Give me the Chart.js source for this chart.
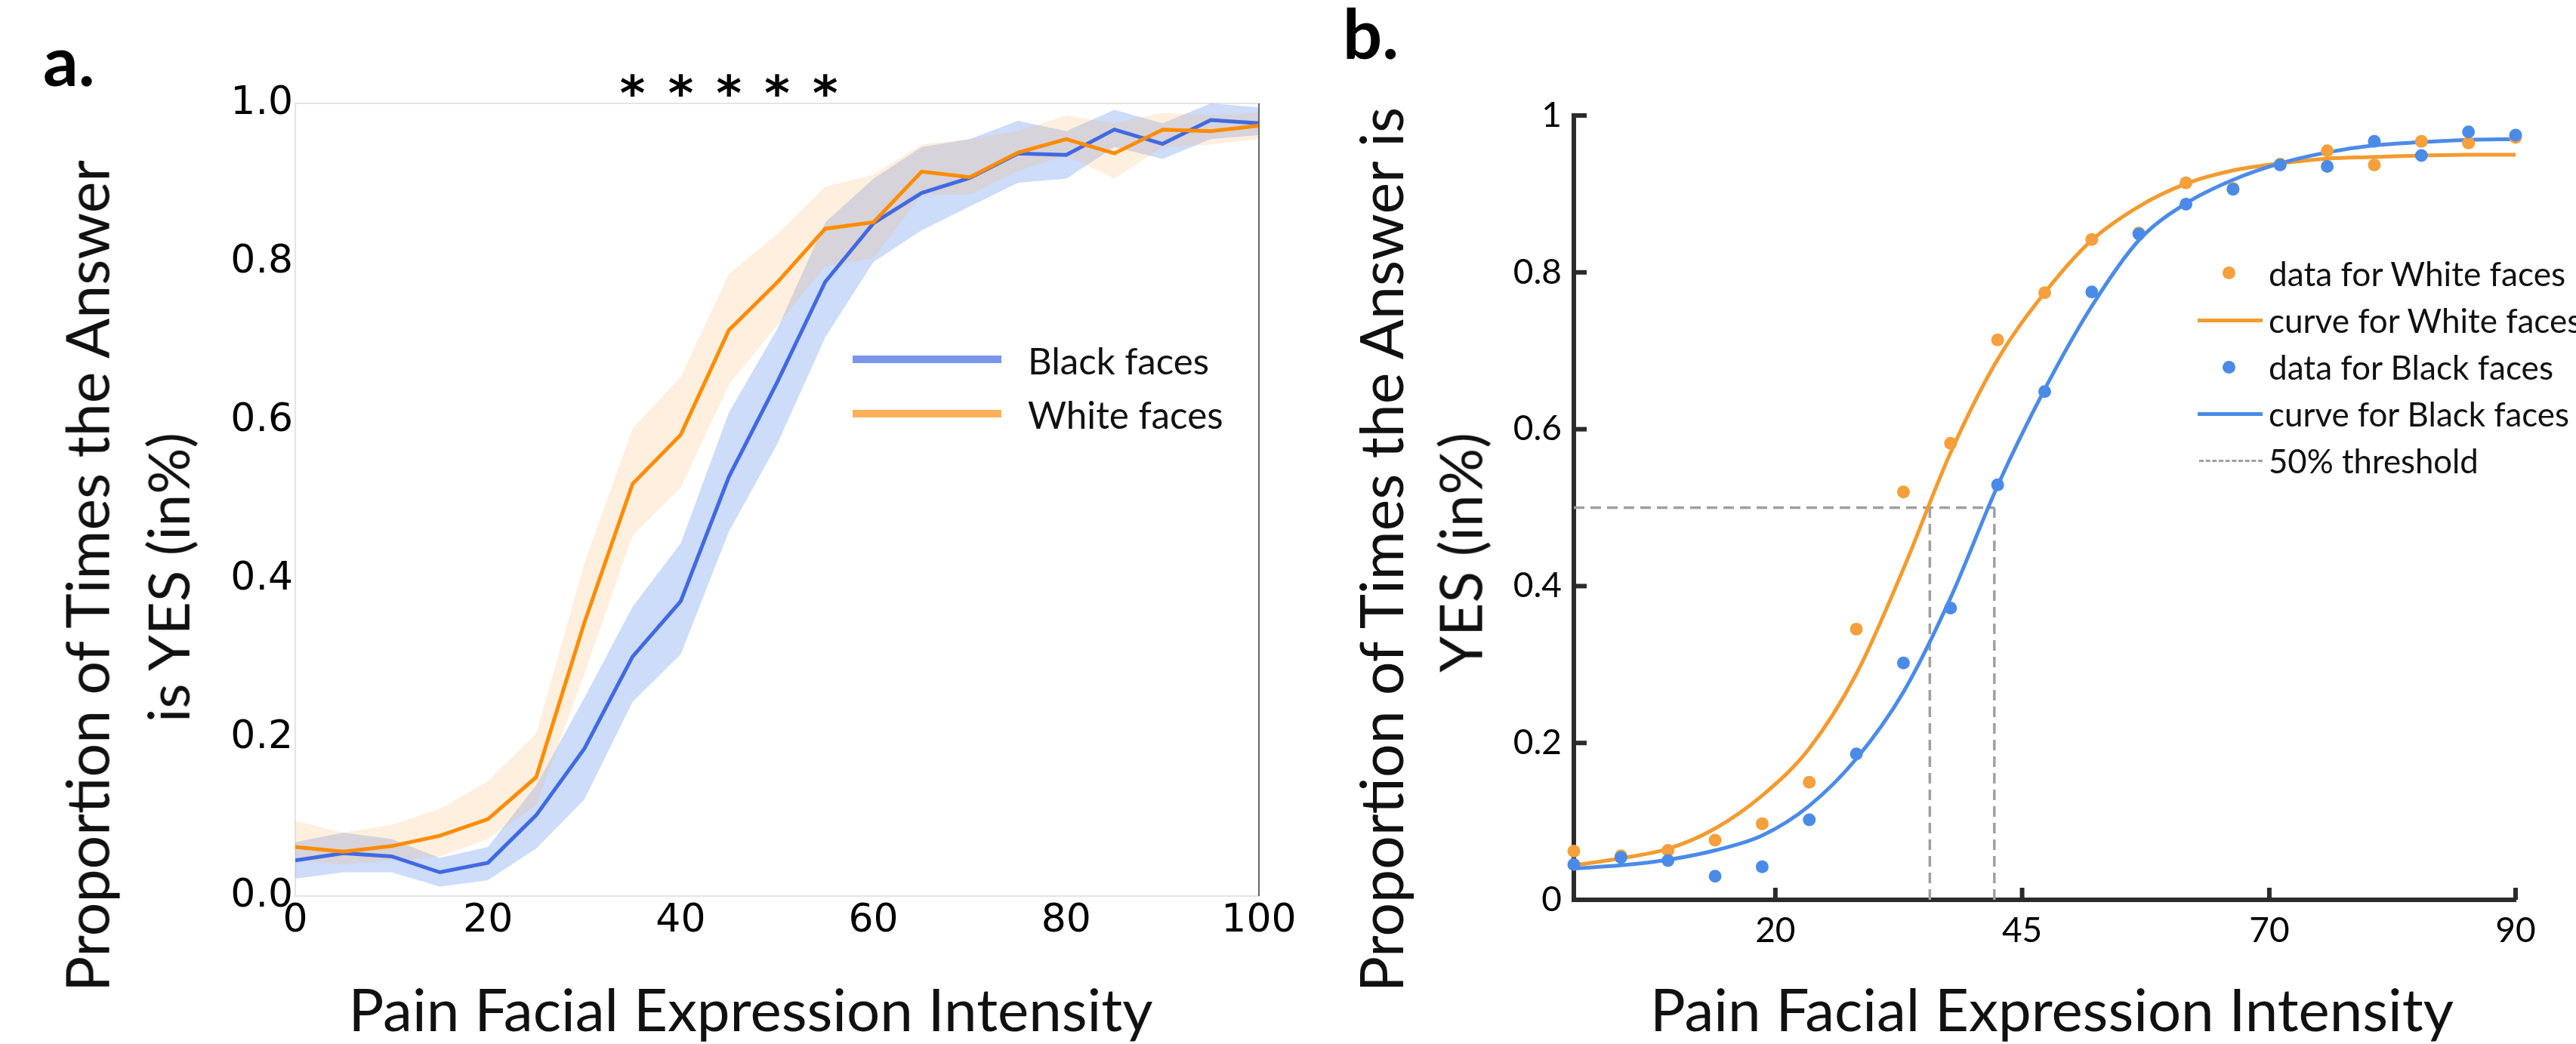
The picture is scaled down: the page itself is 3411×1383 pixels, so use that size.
<!DOCTYPE html>
<html>
<head>
<meta charset="utf-8">
<script src="https://cdn.jsdelivr.net/npm/chart.js@4.4.1/dist/chart.umd.min.js"></script>
<style>
  html, body { margin: 0; padding: 0; background: #fff; }
  #page { position: relative; width: 3411px; height: 1383px; overflow: hidden; background: #fff;
          font-family: Lato, "Open Sans", sans-serif; color: #111; }
  canvas { position: absolute; top: 0; }
  #chartA { left: 0; }
  #chartB { left: 1720px; }
  .t   { position: absolute; white-space: nowrap; transform: translate(-50%, -50%); line-height: 1; }
  .rot { transform: translate(-50%, -50%) rotate(-90deg); }
  .ttl { font-size: 80px; }
  .lab { position: absolute; font-weight: 700; font-size: 92px; line-height: 1; color: #000; }
  .lg  { position: absolute; white-space: nowrap; transform: translateY(-50%); line-height: 1; font-size: 44px; }
  .sw  { position: absolute; }
</style>
</head>
<body>
<div id="page">
  <canvas id="chartA" width="1720" height="1383"></canvas>
  <canvas id="chartB" width="1691" height="1383"></canvas>

  <!-- panel a -->
  <div class="lab" style="left:57px; top:33px">a.</div>
  <div class="t ttl" data-w="1065" style="left:994px; top:1336px">Pain Facial Expression Intensity</div>
  <div class="t ttl rot" data-w="1102" style="left:115px; top:763px">Proportion of Times the Answer</div>
  <div class="t ttl rot" data-w="384" style="left:222px; top:765px">is YES (in%)</div>

  <div class="sw" style="left:1129px; top:471px; width:197px; height:10px; background:#7996ea"></div>
  <div class="lg" data-w="240" style="left:1361px; top:478px">Black faces</div>
  <div class="sw" style="left:1129px; top:543px; width:197px; height:10px; background:#ffb059"></div>
  <div class="lg" data-w="259" style="left:1361px; top:550px">White faces</div>

  <!-- panel b -->
  <div class="lab" style="left:1778px; top:-3px">b.</div>
  <div class="t ttl" data-w="1064" style="left:2717px; top:1336px">Pain Facial Expression Intensity</div>
  <div class="t ttl rot" data-w="1173" style="left:1828px; top:728px">Proportion of Times the Answer is</div>
  <div class="t ttl rot" data-w="318" style="left:1933px; top:732px">YES (in%)</div>

  <div class="sw" style="left:2943px; top:353px; width:17px; height:17px; border-radius:50%; background:#f5a03c"></div>
  <div class="lg" data-w="393" style="left:3004px; top:362px">data for White faces</div>
  <div class="sw" style="left:2910px; top:422px; width:86px; height:5px; background:#f39b30"></div>
  <div class="lg" data-w="414" style="left:3004px; top:424px">curve for White faces</div>
  <div class="sw" style="left:2943px; top:478px; width:17px; height:17px; border-radius:50%; background:#4b8be8"></div>
  <div class="lg" data-w="377" style="left:3004px; top:486px">data for Black faces</div>
  <div class="sw" style="left:2910px; top:546px; width:86px; height:5px; background:#4b8be8"></div>
  <div class="lg" data-w="398" style="left:3004px; top:549px">curve for Black faces</div>
  <div class="sw" style="left:2912px; top:609px; width:84px; height:0; border-top:3px dashed #a0a0a0"></div>
  <div class="lg" data-w="278" style="left:3004px; top:611px">50% threshold</div>
</div>

<script>
// intensity levels (x) shared by both panels
const intensity = [0, 5, 10, 15, 20, 25, 30, 35, 40, 45, 50, 55, 60, 65, 70, 75, 80, 85, 90, 95, 100];

// mean proportion of YES answers
const whiteMean = [0.062, 0.056, 0.063, 0.076, 0.097, 0.150, 0.345, 0.520, 0.582, 0.714, 0.774, 0.842, 0.850, 0.914, 0.907, 0.938, 0.955, 0.937, 0.967, 0.965, 0.972];
const blackMean = [0.045, 0.054, 0.050, 0.030, 0.042, 0.102, 0.186, 0.302, 0.372, 0.529, 0.648, 0.775, 0.849, 0.887, 0.906, 0.937, 0.935, 0.967, 0.949, 0.979, 0.975];

// shaded error bands (panel a)
const whiteLow  = [0.045, 0.040, 0.045, 0.050, 0.072, 0.115, 0.280, 0.455, 0.515, 0.645, 0.720, 0.795, 0.805, 0.885, 0.885, 0.915, 0.935, 0.905, 0.945, 0.948, 0.955];
const whiteHigh = [0.095, 0.080, 0.090, 0.110, 0.145, 0.205, 0.420, 0.590, 0.655, 0.785, 0.835, 0.895, 0.910, 0.948, 0.955, 0.965, 0.985, 0.975, 0.988, 0.985, 0.988];
const blackLow  = [0.022, 0.030, 0.030, 0.012, 0.020, 0.060, 0.122, 0.245, 0.305, 0.460, 0.570, 0.705, 0.800, 0.840, 0.870, 0.900, 0.905, 0.945, 0.930, 0.955, 0.960];
const blackHigh = [0.068, 0.080, 0.072, 0.048, 0.062, 0.140, 0.250, 0.365, 0.445, 0.610, 0.715, 0.850, 0.905, 0.945, 0.955, 0.978, 0.965, 0.992, 0.975, 1.000, 0.995];

// fitted psychometric curves (panel b), read at the same intensities
const whiteCurve = [0.044, 0.053, 0.065, 0.091, 0.133, 0.193, 0.288, 0.422, 0.570, 0.689, 0.774, 0.841, 0.884, 0.913, 0.930, 0.939, 0.945, 0.947, 0.949, 0.950, 0.950];
const blackCurve = [0.040, 0.044, 0.051, 0.063, 0.082, 0.120, 0.180, 0.265, 0.385, 0.528, 0.651, 0.757, 0.841, 0.888, 0.918, 0.939, 0.953, 0.962, 0.966, 0.969, 0.970];

// significant intensities (asterisks, panel a)
const sigIntensity = [35, 40, 45, 50, 55];

// 50% threshold
const thresholdLevel = 0.5;
const whiteThreshold = 37.8;
const blackThreshold = 44.65;

// panel b x tick labels and where they sit on the intensity scale
const bTickPos    = [21.4, 47.6, 73.85, 100];
const bTickLabels = ['20', '45', '70', '90'];

const pts = arr => intensity.map((x, i) => ({ x, y: arr[i] }));

// size the html labels so their widths match the figure
document.querySelectorAll('[data-w]').forEach(el => {
  const base = parseFloat(getComputedStyle(el).fontSize);
  const w = el.offsetWidth;
  if (w) el.style.fontSize = (base * (+el.dataset.w) / w).toFixed(2) + 'px';
});

Chart.defaults.font.family = 'Lato, "Open Sans", sans-serif';
Chart.defaults.color = '#000';
Chart.defaults.animation = false;

// ── panel a ─────────────────────────────
const frameA = {
  id: 'frameA',
  beforeDatasetsDraw(chart) {
    const { ctx, chartArea: a } = chart;
    ctx.save();
    ctx.strokeStyle = '#e4e4e4';
    ctx.lineWidth = 2;
    ctx.strokeRect(a.left, a.top, a.right - a.left, a.bottom - a.top);
    ctx.restore();
  },
  afterDatasetsDraw(chart) {
    const { ctx, chartArea: a } = chart;
    ctx.save();
    ctx.strokeStyle = '#666';
    ctx.lineWidth = 2;
    ctx.beginPath();
    ctx.moveTo(a.right, a.top);
    ctx.lineTo(a.right, a.bottom);
    ctx.stroke();
    ctx.restore();
  }
};

const stars = {
  id: 'stars',
  afterDraw(chart) {
    const { ctx, scales: { x } } = chart;
    ctx.save();
    ctx.font = 'bold 64px "DejaVu Sans"';
    ctx.fillStyle = '#000';
    ctx.textAlign = 'center';
    ctx.textBaseline = 'alphabetic';
    sigIntensity.forEach(v => ctx.fillText('*', x.getPixelForValue(v), 146));
    ctx.restore();
  }
};

new Chart(document.getElementById('chartA'), {
  type: 'line',
  data: {
    datasets: [
      { data: pts(blackLow),  borderColor: 'transparent', borderWidth: 0, pointRadius: 0, fill: false, order: 5 },
      { data: pts(blackHigh), borderColor: 'transparent', borderWidth: 0, pointRadius: 0, fill: 0, backgroundColor: 'rgba(100,149,237,0.33)', order: 4 },
      { data: pts(whiteLow),  borderColor: 'transparent', borderWidth: 0, pointRadius: 0, fill: false, order: 3 },
      { data: pts(whiteHigh), borderColor: 'transparent', borderWidth: 0, pointRadius: 0, fill: 2, backgroundColor: 'rgba(255,165,80,0.18)', order: 2 },
      { label: 'Black faces', data: pts(blackMean), borderColor: '#4169e1', borderWidth: 5, pointRadius: 0, tension: 0, order: 1 },
      { label: 'White faces', data: pts(whiteMean), borderColor: '#ff8c00', borderWidth: 5, pointRadius: 0, tension: 0, order: 0 }
    ]
  },
  options: {
    responsive: false,
    animation: false,
    layout: { padding: { left: 0, top: 137, right: 53, bottom: 0 } },
    plugins: { legend: { display: false }, tooltip: { enabled: false } },
    scales: {
      x: {
        type: 'linear', min: 0, max: 100,
        ticks: { stepSize: 20, padding: 2, maxRotation: 0, font: { family: '"DejaVu Sans"', size: 52 }, color: '#000' },
        grid: { display: false, drawTicks: false },
        border: { display: false },
        afterFit: s => { s.height = 196; }
      },
      y: {
        min: 0, max: 1,
        ticks: { stepSize: 0.2, padding: 3, callback: v => v.toFixed(1), font: { family: '"DejaVu Sans"', size: 52 }, color: '#000' },
        grid: { display: false, drawTicks: false },
        border: { display: false },
        afterFit: s => { s.width = 391; }
      }
    }
  },
  plugins: [frameA, stars]
});

// ── panel b ─────────────────────────────
const inwardTicks = {
  id: 'inwardTicks',
  beforeDatasetsDraw(chart) {
    const { ctx, chartArea: a, scales: { x, y } } = chart;
    ctx.save();
    ctx.strokeStyle = '#2b2b2b';
    ctx.lineWidth = 6;
    x.ticks.forEach(t => {
      const px = x.getPixelForValue(t.value);
      ctx.beginPath(); ctx.moveTo(px, a.bottom); ctx.lineTo(px, a.bottom - 16); ctx.stroke();
    });
    y.ticks.forEach(t => {
      const py = y.getPixelForValue(t.value);
      ctx.beginPath(); ctx.moveTo(a.left, py); ctx.lineTo(a.left + 17, py); ctx.stroke();
    });
    ctx.restore();
  }
};

const dashed = { borderColor: '#a0a0a0', borderWidth: 3.5, borderDash: [14, 8], pointRadius: 0, fill: false, order: 10 };

new Chart(document.getElementById('chartB'), {
  type: 'line',
  data: {
    datasets: [
      { ...dashed, data: [{ x: 0, y: thresholdLevel }, { x: blackThreshold, y: thresholdLevel }] },
      { ...dashed, data: [{ x: whiteThreshold, y: 0 }, { x: whiteThreshold, y: thresholdLevel }] },
      { ...dashed, data: [{ x: blackThreshold, y: 0 }, { x: blackThreshold, y: thresholdLevel }] },
      { label: 'curve for White faces', data: pts(whiteCurve), borderColor: '#f39b30', borderWidth: 5, pointRadius: 0, cubicInterpolationMode: 'monotone', clip: false, order: 3 },
      { label: 'curve for Black faces', data: pts(blackCurve), borderColor: '#4b8be8', borderWidth: 5, pointRadius: 0, cubicInterpolationMode: 'monotone', clip: false, order: 2 },
      { label: 'data for White faces', data: pts(whiteMean), showLine: false, pointRadius: 8.5, pointBorderWidth: 0, pointBackgroundColor: '#f5a03c', clip: false, order: 1 },
      { label: 'data for Black faces', data: pts(blackMean), showLine: false, pointRadius: 8.5, pointBorderWidth: 0, pointBackgroundColor: '#4b8be8', clip: false, order: 0 }
    ]
  },
  options: {
    responsive: false,
    animation: false,
    layout: { padding: { left: 0, top: 153, right: 80, bottom: 0 } },
    plugins: { legend: { display: false }, tooltip: { enabled: false } },
    scales: {
      x: {
        type: 'linear', min: 0, max: 100,
        afterBuildTicks: s => { s.ticks = bTickPos.map(v => ({ value: v })); },
        ticks: { autoSkip: false, maxRotation: 0, padding: 14, callback: (v, i) => bTickLabels[i], font: { size: 46 }, color: '#000' },
        grid: { display: false, drawTicks: false },
        border: { display: true, color: '#2b2b2b', width: 6 },
        afterFit: s => { s.height = 191; }
      },
      y: {
        min: 0, max: 1,
        ticks: { stepSize: 0.2, padding: 16, callback: v => String(Math.round(v * 10) / 10), font: { size: 46 }, color: '#000' },
        grid: { display: false, drawTicks: false },
        border: { display: true, color: '#2b2b2b', width: 6 },
        afterFit: s => { s.width = 364; }
      }
    }
  },
  plugins: [inwardTicks]
});
</script>
</body>
</html>
